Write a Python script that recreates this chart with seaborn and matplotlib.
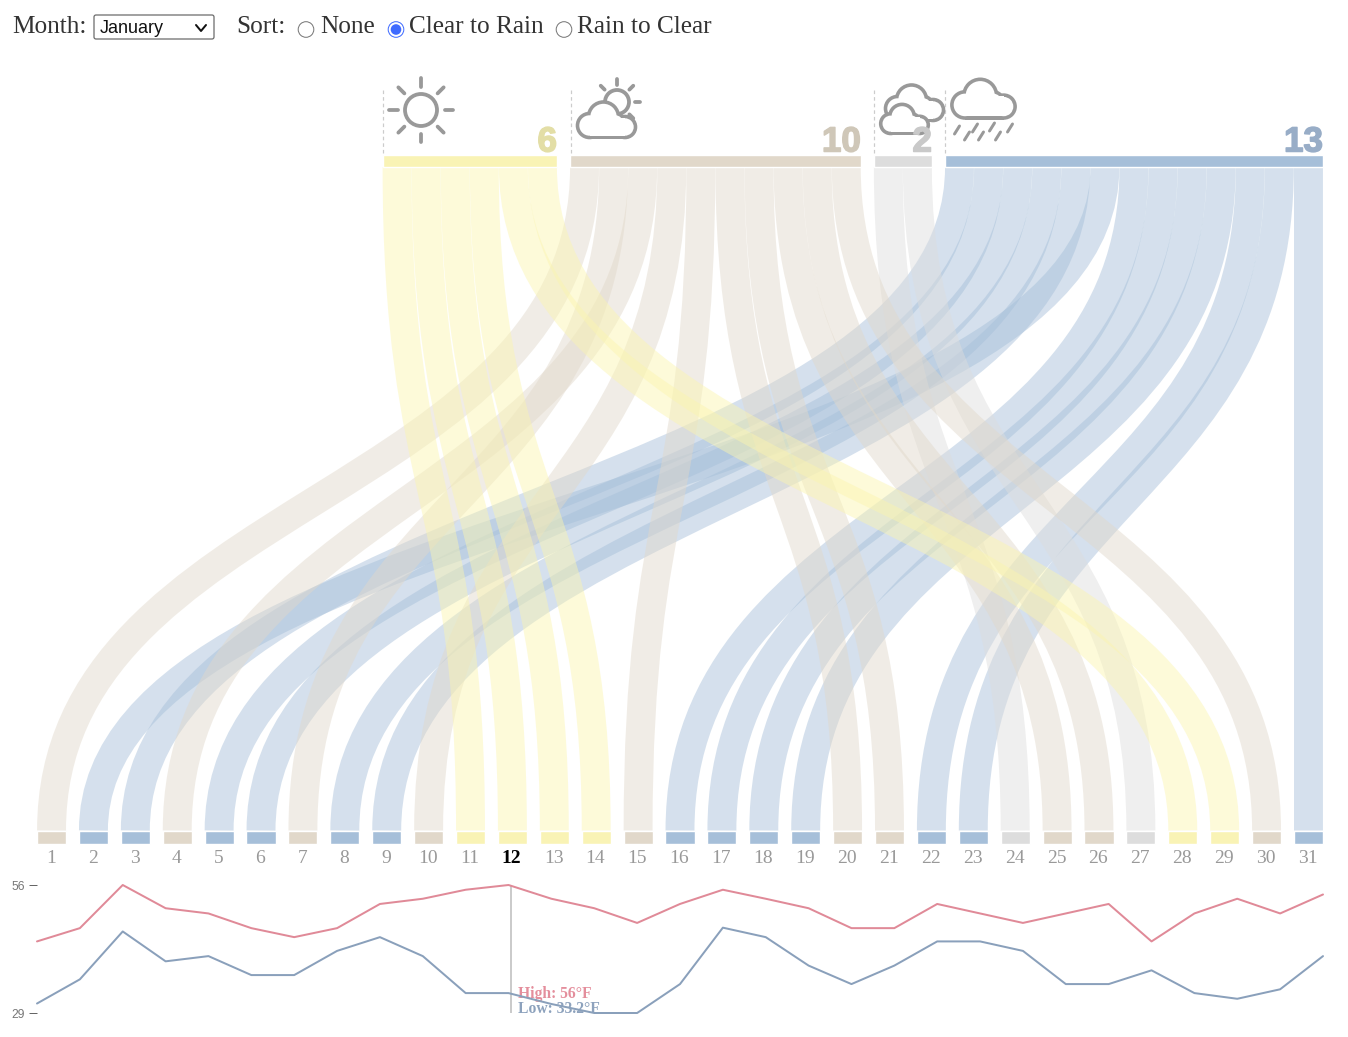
import numpy as np
import pandas as pd
import matplotlib
matplotlib.use("Agg")
import matplotlib.pyplot as plt
import matplotlib.patheffects as pe
import seaborn as sns
from matplotlib.path import Path
from matplotlib.patches import PathPatch, Circle, Rectangle, FancyBboxPatch

# data
days = list(range(1, 32))
weather = ["partly", "rain", "rain", "partly", "rain", "rain", "partly", "rain", "rain", "partly",
           "clear", "clear", "clear", "clear", "partly", "rain", "rain", "rain", "rain", "partly",
           "partly", "rain", "rain", "cloudy", "partly", "partly", "cloudy", "clear", "clear", "partly",
           "rain"]
highs = [44.1, 46.9, 56, 51.1, 50, 46.9, 45, 46.9, 52, 53.1, 55, 56, 53.1, 51.1, 48, 52,
         55, 53.1, 51.1, 46.9, 46.9, 52, 50, 48, 50, 52, 44.1, 50, 53.1, 50, 54]
lows = [31, 36.1, 46.2, 39.9, 41, 37, 37, 42.1, 45, 41, 33.2, 33.2, 30.9, 29, 29, 35.1,
        47, 45, 39, 35.1, 39, 44.1, 44.1, 42.1, 35.1, 35.1, 38, 33.2, 32, 34, 41]
categories = ["clear", "partly", "cloudy", "rain"]
# order of the days inside each group on the top bar
top_order = {
    "clear": [11, 12, 13, 14, 28, 29],
    "partly": [1, 7, 4, 10, 15, 20, 21, 25, 26, 30],
    "cloudy": [24, 27],
    "rain": [3, 5, 6, 8, 9, 2, 16, 17, 18, 19, 22, 23, 31],
}
selected_day = 12

bar_colors = {"clear": "#F9F3B5", "partly": "#E1D8CA", "cloudy": "#DDDDDD", "rain": "#A6BFD9"}
ribbon_colors = {"clear": "#FBF5B0", "partly": "#E1D8CA", "cloudy": "#DDDDDD", "rain": "#A6BFD9"}
count_colors = {"clear": "#E3DEA6", "partly": "#CFC7B8", "cloudy": "#C9C9C9", "rain": "#98ADC7"}
GREY = "#999999"

W, H = 1348, 1037
LEFT, RIGHT = 37, 1323
BAR_W = 29.08
CAT_GAP = 13
TOP_Y0, TOP_Y1 = 154.6, 167
BOT_Y0, BOT_Y1 = 830.6, 844


def pt(px):
    return px * 0.72


sns.set_theme(style="white")
plt.rcParams["font.family"] = ["Liberation Serif", "DejaVu Serif"]

fig = plt.figure(figsize=(W / 100, H / 100), dpi=100)
ax = fig.add_axes([0, 0, 1, 1])
ax.set_xlim(0, W)
ax.set_ylim(H, 0)
ax.axis("off")

# positions along the bottom (days) and the top (grouped by weather)
step = (RIGHT - LEFT - BAR_W) / 30
bottom_x = {d: LEFT + BAR_W / 2 + step * (d - 1) for d in days}

top_x = {}
cat_span = {}
cursor = RIGHT - (BAR_W * len(days) + CAT_GAP * (len(categories) - 1))
for cat in categories:
    start = cursor
    for d in top_order[cat]:
        top_x[d] = cursor + BAR_W / 2
        cursor += BAR_W
    cat_span[cat] = (start, cursor)
    cursor += CAT_GAP

# ribbons
y_mid = (TOP_Y1 + BOT_Y0) / 2
for d, w in zip(days, weather):
    verts = [(bottom_x[d], BOT_Y0), (bottom_x[d], y_mid), (top_x[d], y_mid), (top_x[d], TOP_Y1)]
    codes = [Path.MOVETO, Path.CURVE4, Path.CURVE4, Path.CURVE4]
    ax.add_patch(PathPatch(Path(verts, codes), fill=False, edgecolor=ribbon_colors[w], alpha=0.47,
                           lw=pt(BAR_W - 0.15), capstyle="butt", zorder=2))

# bars at both ends
for d, w in zip(days, weather):
    ax.bar(bottom_x[d], BOT_Y1 - BOT_Y0, bottom=BOT_Y0, width=BAR_W, color=bar_colors[w], zorder=3)
    is_sel = d == selected_day
    ax.text(bottom_x[d] - 0.7, 863, str(d), ha="center", va="baseline", fontsize=pt(19.5),
            color="black" if is_sel else GREY, fontweight="bold" if is_sel else "normal")
for cat in categories:
    a, b = cat_span[cat]
    ax.bar((a + b) / 2, TOP_Y1 - TOP_Y0, bottom=TOP_Y0, width=b - a, color=bar_colors[cat], zorder=3)
    ax.vlines(a + 0.5, 90, TOP_Y0, color="#CCCCCC", lw=pt(1.2), linestyles=(0, (3, 2.5)), zorder=1)


# icons
def ray(cx, cy, angle, r0, r1, lw):
    a = np.deg2rad(angle)
    ax.plot([cx + r0 * np.cos(a), cx + r1 * np.cos(a)], [cy + r0 * np.sin(a), cy + r1 * np.sin(a)],
            color=GREY, lw=pt(lw), solid_capstyle="round", zorder=5)


def sun(cx, cy, r, r0, r1, angles, lw=3.8):
    ax.add_patch(Circle((cx, cy), r, fill=False, ec=GREY, lw=pt(lw), zorder=5))
    for a in angles:
        ray(cx, cy, a, r0, r1, lw)


def cloud(cx, base, scale, z):
    bumps = [(-17, -12, 12), (-3, -20.5, 15), (18.5, -10.5, 10.5), (9, -15, 9)]
    half = 1.8
    for off, col, zz in [(half, GREY, z), (-half, "white", z + 0.1)]:
        for bx, by, r in bumps:
            ax.add_patch(Circle((cx + bx * scale, base + by * scale), r * scale + off, fc=col, ec="none", zorder=zz))
        x0, x1 = cx - 17 * scale, cx + 18.5 * scale
        ax.add_patch(Rectangle((x0, base - 20 * scale), x1 - x0, 20 * scale + off,
                               fc=col, ec="none", zorder=zz))


sun(421, 110, 16, 23.5, 32, range(0, 360, 45))
sun(617, 102, 12, 17.5, 23, [-135, -90, -45, 0, 45])
cloud(606.5, 137.5, 1.0, 6)
cloud(914.5, 120.5, 1.0, 6)
cloud(904.5, 133.5, 0.82, 7)
cloud(983.5, 118, 1.09, 6)
for rx, ry in [(957, 130), (967, 136), (975, 128), (981, 136), (992, 127), (998, 136), (1010, 128)]:
    ax.plot([rx - 2.5, rx + 2.5], [ry + 4, ry - 4], color=GREY, lw=pt(3), solid_capstyle="round", zorder=5)

# category counts
for cat in categories:
    n = weather.count(cat)
    ax.text(cat_span[cat][1], 151.5, str(n), ha="right", va="baseline", fontsize=pt(35),
            fontweight="bold", family="Liberation Sans", color=count_colors[cat], zorder=8,
            path_effects=[pe.withStroke(linewidth=pt(1.5), foreground=count_colors[cat])])

# form controls at the top
FORM = "#333333"
FORM_SIZE = pt(25.2)
ax.text(12, 33, "Month:", fontsize=FORM_SIZE, color=FORM, va="baseline")
ax.add_patch(FancyBboxPatch((94, 15), 120, 24, boxstyle="round,pad=0,rounding_size=2", fc="white", ec="#666666", lw=pt(1.2)))
ax.text(99.5, 33, "January", fontsize=pt(18), family="Liberation Sans", color="#111111", va="baseline")
ax.plot([196, 201, 206], [25, 31, 25], color="#111111", lw=pt(2))
ax.text(236, 33, "Sort:", fontsize=FORM_SIZE, color=FORM, va="baseline")
for rx, label, tx, on in [(306, "None", 320, False), (396, "Clear to Rain", 409, True), (564, "Rain to Clear", 577, False)]:
    ax.text(tx, 33, label, fontsize=FORM_SIZE, color=FORM, va="baseline")
    ax.add_patch(Circle((rx, 29.5), 7.8, fc="white", ec="#3F6BFF" if on else "#767676", lw=pt(1)))
    if on:
        ax.add_patch(Circle((rx, 29.5), 5.3, fc="#3F6BFF", ec="none"))

# hover readout
ax.vlines(bottom_x[selected_day] - 1, 885, 1013, color="#BBBBBB", lw=pt(1.5), zorder=1)
hi, lo = highs[selected_day - 1], lows[selected_day - 1]
ax.text(518, 998, f"High: {hi:g}°F", fontsize=pt(15.6), fontweight="bold", color="#E48E9C", va="baseline")
ax.text(518, 1013, f"Low: {lo:g}°F", fontsize=pt(15.6), fontweight="bold", color="#8DA2BD", va="baseline")

# temperature strip
temps = pd.DataFrame({"day": days, "High": highs, "Low": lows}).melt("day", var_name="kind", value_name="temp")
line_ax = fig.add_axes([LEFT / W, 1 - 1013 / H, (RIGHT - LEFT) / W, 128 / H], facecolor="none")
sns.lineplot(data=temps, x="day", y="temp", hue="kind", palette={"High": "#E08A98", "Low": "#8AA0BB"},
             lw=pt(2), legend=False, ax=line_ax, clip_on=False)
line_ax.set_xlim(1, 31)
line_ax.set_ylim(29, 56)
line_ax.set_xlabel("")
line_ax.set_ylabel("")
line_ax.set_xticks([])
line_ax.set_yticks([29, 56])
line_ax.set_yticklabels(["29", "56"], family="Liberation Sans", fontsize=pt(12), color="#777777")
line_ax.tick_params(axis="y", length=pt(8), width=pt(1), color="#666666", pad=pt(4), left=True)
sns.despine(ax=line_ax, left=True, bottom=True)

fig.savefig("out.png", dpi=100)
